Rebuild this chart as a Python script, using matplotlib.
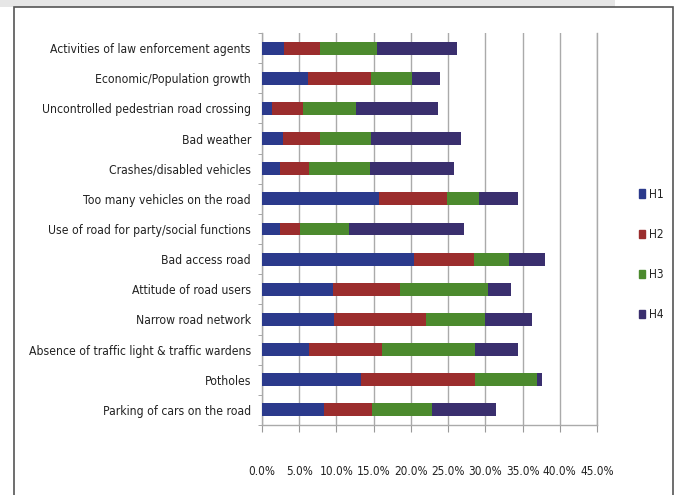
import matplotlib
matplotlib.use("Agg")
import matplotlib.pyplot as plt
from matplotlib.patches import Rectangle
import numpy as np

plt.rcParams['font.family'] = ['DejaVu Sans']
plt.rcParams['font.stretch'] = 'condensed'

categories = [
    "Activities of law enforcement agents",
    "Economic/Population growth",
    "Uncontrolled pedestrian road crossing",
    "Bad weather",
    "Crashes/disabled vehicles",
    "Too many vehicles on the road",
    "Use of road for party/social functions",
    "Bad access road",
    "Attitude of road users",
    "Narrow road network",
    "Absence of traffic light & traffic wardens",
    "Potholes",
    "Parking of cars on the road",
]
h1 = [3.0, 6.2, 1.3, 2.8, 2.4, 15.7, 2.4, 20.4, 9.6, 9.7, 6.3, 13.3, 8.3]
h2 = [4.8, 8.5, 4.2, 5.0, 3.9, 9.2, 2.7, 8.1, 8.9, 12.3, 9.8, 15.3, 6.5]
h3 = [7.6, 5.5, 7.1, 6.9, 8.2, 4.3, 6.6, 4.7, 11.8, 8.0, 12.5, 8.4, 8.0]
h4 = [10.8, 3.7, 11.0, 12.0, 11.3, 5.2, 15.5, 4.8, 3.2, 6.3, 5.8, 0.6, 8.6]
series_names = ["H1", "H2", "H3", "H4"]
colors = ["#2B3A8C", "#9B2D2D", "#4C8A2E", "#3A2F6E"]
xticks = [0, 5, 10, 15, 20, 25, 30, 35, 40, 45]

fig = plt.figure(figsize=(6.78, 4.95), dpi=100)

# outer frame and top shadow
fig.patches.append(Rectangle((0, 1 - 7/495), 615/678, 7/495, transform=fig.transFigure,
                             facecolor="#e6e6e6", edgecolor="none", zorder=-5))
fig.patches.append(Rectangle((14/678, -0.01), (673-14)/678, 1.01 - 7/495,
                             transform=fig.transFigure, facecolor="none",
                             edgecolor="#555555", linewidth=1.2, zorder=-5))

ax = fig.add_axes([262/678, 1 - 425/495, (597-262)/678, (425-33)/495])

y = np.arange(len(categories))
left = np.zeros(len(categories))
for vals, name, c in zip([h1, h2, h3, h4], series_names, colors):
    ax.barh(y, vals, left=left, height=0.43, color=c, label=name, zorder=3)
    left = left + np.array(vals)

ax.set_ylim(len(categories) - 0.5, -0.5)
ax.set_xlim(0, 45)
ax.set_yticks(y)
ax.set_yticklabels(categories, fontsize=8.7, color="#222222")
ax.tick_params(axis='y', length=0, pad=8)
ax.set_yticks(np.arange(-0.5, len(categories), 1), minor=True)
ax.tick_params(axis='y', which='minor', length=3, color="#999999", direction='out')

ax.set_xticks(xticks)
ax.set_xticklabels([f"{v:.1f}%" for v in xticks], fontsize=8.5, color="#222222")
ax.tick_params(axis='x', length=5, color="#999999", pad=24, direction='out')
ax.grid(axis='x', color="#aaaaaa", linewidth=1.0, zorder=0)
ax.set_axisbelow(True)
ax.spines["top"].set_visible(False)
for s in ["left", "bottom", "right"]:
    ax.spines[s].set_color("#aaaaaa")
    ax.spines[s].set_linewidth(1.0)

handles = [Rectangle((0, 0), 1, 1, color=c) for c in colors]
fig.legend(handles, series_names, loc="upper left", bbox_to_anchor=(628/678, 1 - 177/495),
           frameon=False, fontsize=8.5, handlelength=0.5, handleheight=0.7,
           handletextpad=0.4, labelspacing=2.3, labelcolor="#222222")

fig.savefig("out.png", dpi=100)
